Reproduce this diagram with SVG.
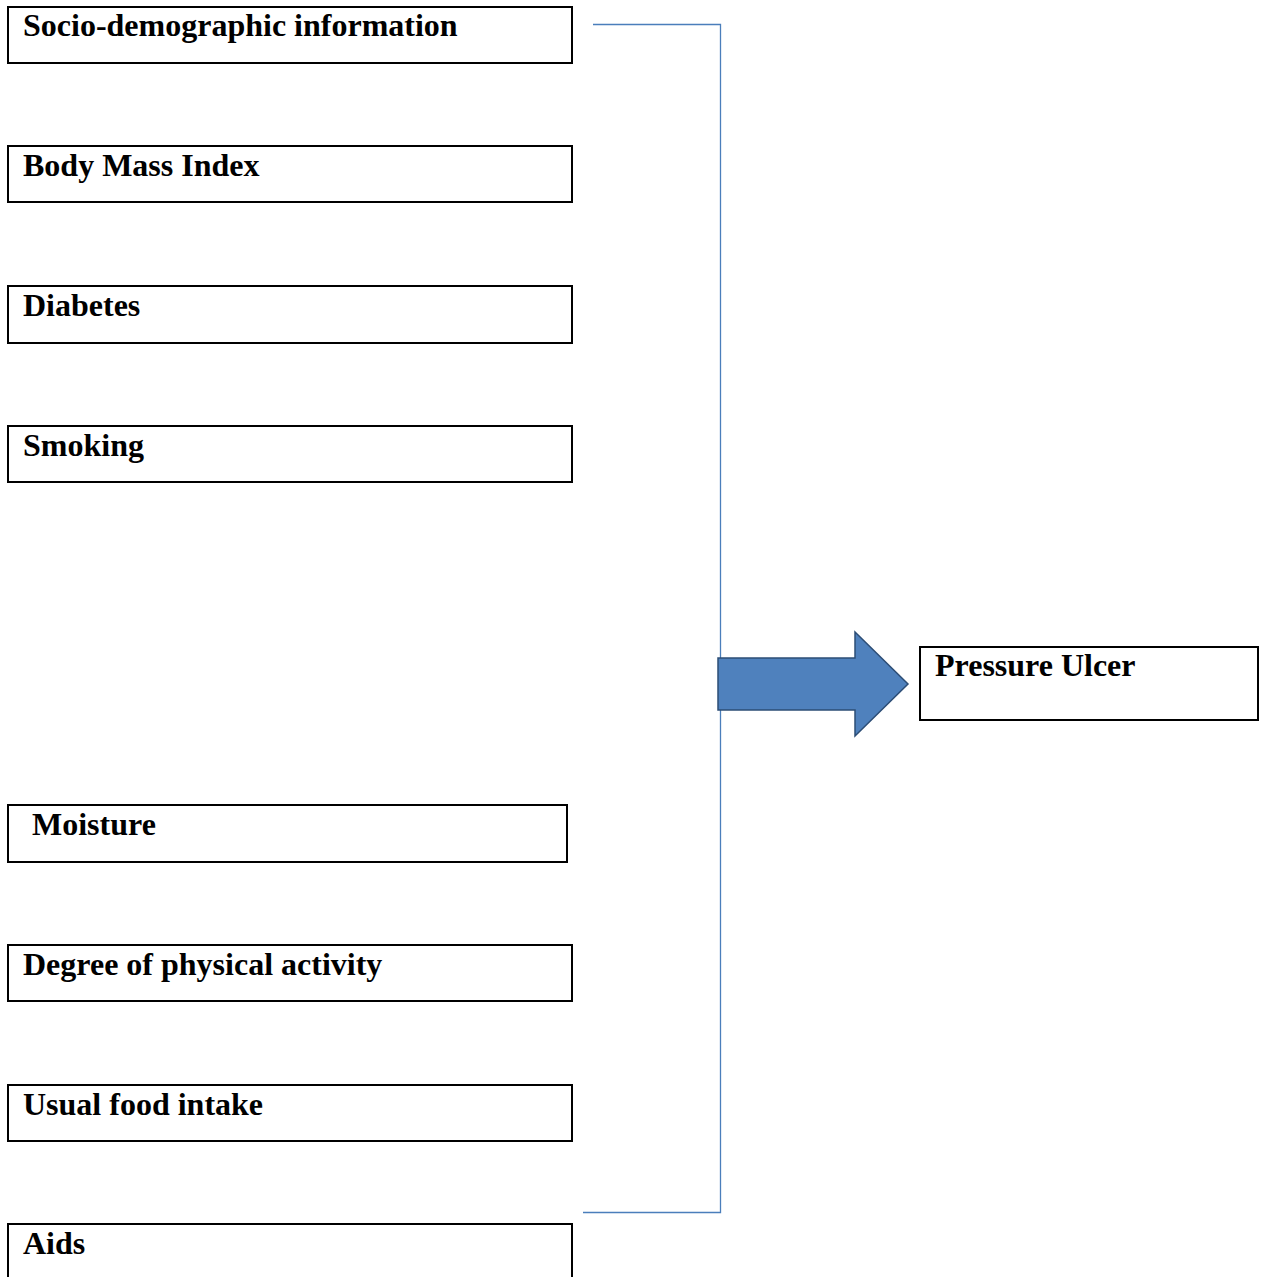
<svg xmlns="http://www.w3.org/2000/svg" width="1264" height="1277" viewBox="0 0 1264 1277">
<style>
.box{fill:#fff;stroke:#000;stroke-width:2}
.t{font-family:"Liberation Serif","Times New Roman",serif;font-weight:bold;font-size:32px;fill:#000}
.conn{fill:none;stroke:#4a7ebb;stroke-width:1.3}
</style>
<rect width="1264" height="1277" fill="#fff"/>
<g id="connectors">
<path class="conn" d="M593,24.5 H720.5 V1212.5 H583"/>
<path id="big-arrow" d="M718,658 H855 V632 L908,684 L855,736 V710 H718 Z" fill="#4f81bd" stroke="#2c4d75" stroke-width="1.5"/>
</g>
<g id="n1"><rect class="box" x="8" y="7" width="564" height="56"/><text class="t" x="23" y="36">Socio-demographic information</text></g>
<g id="n2"><rect class="box" x="8" y="146" width="564" height="56"/><text class="t" x="23" y="176">Body Mass Index</text></g>
<g id="n3"><rect class="box" x="8" y="286" width="564" height="57"/><text class="t" x="23" y="316">Diabetes</text></g>
<g id="n4"><rect class="box" x="8" y="426" width="564" height="56"/><text class="t" x="23" y="456">Smoking</text></g>
<g id="n5"><rect class="box" x="8" y="805" width="559" height="57"/><text class="t" x="32" y="835">Moisture</text></g>
<g id="n6"><rect class="box" x="8" y="945" width="564" height="56"/><text class="t" x="23" y="975">Degree of physical activity</text></g>
<g id="n7"><rect class="box" x="8" y="1085" width="564" height="56"/><text class="t" x="23" y="1115">Usual food intake</text></g>
<g id="n8"><rect class="box" x="8" y="1224" width="564" height="60"/><text class="t" x="23" y="1254">Aids</text></g>
<g id="n9"><rect class="box" x="920" y="647" width="338" height="73"/><text class="t" x="935" y="676">Pressure Ulcer</text></g>
</svg>
